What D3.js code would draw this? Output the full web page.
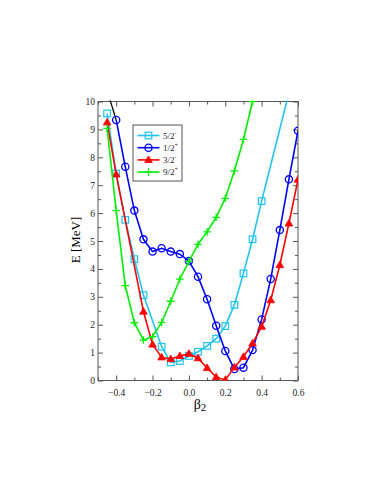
<!DOCTYPE html>
<html>
<head>
<meta charset="utf-8">
<script src="https://cdn.jsdelivr.net/npm/d3@7"></script>
<style>
  body { margin: 0; background: #fff; }
  svg text { font-family: "Liberation Serif", "Times New Roman", serif; }
</style>
</head>
<body>
<svg id="canvas"></svg>
<script>
/** Data (beta2, E in MeV) */
let beta52 = [-0.45, -0.4, -0.35, -0.3, -0.25, -0.15, -0.1, -0.05, 0.0, 0.05, 0.1, 0.15, 0.2, 0.25, 0.3, 0.35, 0.4, 0.6];
let e52 = [9.57, 7.42, 5.76, 4.35, 3.06, 1.21, 0.65, 0.70, 0.88, 1.03, 1.24, 1.5, 1.95, 2.71, 3.84, 5.06, 6.43, 11.6];

let beta12 = [-0.4, -0.35, -0.3, -0.25, -0.2, -0.15, -0.1, -0.05, 0.0, 0.05, 0.1, 0.15, 0.2, 0.25, 0.3, 0.35, 0.4, 0.45, 0.5, 0.55, 0.6];
let e12 = [9.34, 7.66, 6.09, 5.06, 4.62, 4.74, 4.62, 4.53, 4.28, 3.72, 2.91, 1.96, 1.06, 0.41, 0.46, 1.09, 2.19, 3.64, 5.39, 7.21, 8.95];

let beta32 = [-0.45, -0.4, -0.25, -0.2, -0.15, -0.1, -0.05, 0.0, 0.05, 0.1, 0.15, 0.2, 0.25, 0.3, 0.35, 0.4, 0.45, 0.5, 0.55, 0.6];
let e32 = [9.25, 7.39, 2.47, 1.29, 0.83, 0.77, 0.88, 0.96, 0.80, 0.45, 0.12, 0.02, 0.47, 0.85, 1.33, 1.93, 2.88, 4.14, 5.63, 7.2];

let beta92 = [-0.45, -0.4, -0.35, -0.3, -0.25, -0.2, -0.15, -0.1, -0.05, 0.0, 0.05, 0.1, 0.15, 0.2, 0.25, 0.3, 0.35];
let e92 = [9.04, 6.09, 3.4, 2.07, 1.45, 1.57, 2.08, 2.84, 3.63, 4.27, 4.88, 5.33, 5.85, 6.53, 7.51, 8.64, 10.0];

// short black piece running off the top at the left
let betaBlack = [-0.45, -0.4];
let eBlack = [10.4, 9.34];

let series = [
    { name: '5/2', sup: '-', color: '#1ec3f0', symbol: 'square', beta: beta52, e: e52 },
    { name: '1/2', sup: '+', color: '#0000ff', symbol: 'circle', beta: beta12, e: e12 },
    { name: '3/2', sup: '-', color: '#ff0000', symbol: 'triangle', beta: beta32, e: e32 },
    { name: '9/2', sup: '+', color: '#00ee00', symbol: 'plus', beta: beta92, e: e92 }
];

let xTicks = [-0.4, -0.2, 0.0, 0.2, 0.4, 0.6];
let xMinor = [-0.5, -0.3, -0.1, 0.1, 0.3, 0.5];
let yTicks = [0, 1, 2, 3, 4, 5, 6, 7, 8, 9, 10];
let yMinor = [0.5, 1.5, 2.5, 3.5, 4.5, 5.5, 6.5, 7.5, 8.5, 9.5];

let width = 383;
let height = 495;
let plotLeft = 98, plotRight = 298, plotTop = 101.5, plotBottom = 380.5;

let canvas = d3.select('#canvas').attr('width', width).attr('height', height);

let xScale = d3.scaleLinear().domain([-0.5, 0.6]).range([plotLeft, plotRight]);
let yScale = d3.scaleLinear().domain([0, 10]).range([plotBottom, plotTop]);

/** Frame and ticks (inward, on all four sides) */
const drawAxes = () => {
    const axisColor = '#555';
    const style = (g) => {
        g.select('.domain').remove();
        g.selectAll('line').attr('stroke', axisColor);
        g.selectAll('text').attr('fill', '#222').style('font-size', '9.5px');
    };

    canvas.append('g').attr('transform', `translate(0, ${plotBottom})`)
        .call(d3.axisBottom(xScale).tickValues(xTicks).tickSize(-5).tickPadding(9).tickFormat(d3.format('.1f')))
        .call(style);
    canvas.append('g').attr('transform', `translate(0, ${plotBottom})`)
        .call(d3.axisBottom(xScale).tickValues(xMinor).tickSize(-3).tickFormat(''))
        .call(style);
    canvas.append('g').attr('transform', `translate(0, ${plotTop})`)
        .call(d3.axisTop(xScale).tickValues(xTicks).tickSize(-5).tickFormat(''))
        .call(style);
    canvas.append('g').attr('transform', `translate(0, ${plotTop})`)
        .call(d3.axisTop(xScale).tickValues(xMinor).tickSize(-3).tickFormat(''))
        .call(style);

    canvas.append('g').attr('transform', `translate(${plotLeft}, 0)`)
        .call(d3.axisLeft(yScale).tickValues(yTicks).tickSize(-5).tickPadding(3).tickFormat(d3.format('d')))
        .call(style);
    canvas.append('g').attr('transform', `translate(${plotLeft}, 0)`)
        .call(d3.axisLeft(yScale).tickValues(yMinor).tickSize(-3).tickFormat(''))
        .call(style);
    canvas.append('g').attr('transform', `translate(${plotRight}, 0)`)
        .call(d3.axisRight(yScale).tickValues(yTicks).tickSize(-5).tickFormat(''))
        .call(style);
    canvas.append('g').attr('transform', `translate(${plotRight}, 0)`)
        .call(d3.axisRight(yScale).tickValues(yMinor).tickSize(-3).tickFormat(''))
        .call(style);

    canvas.append('rect')
        .attr('x', plotLeft).attr('y', plotTop)
        .attr('width', plotRight - plotLeft).attr('height', plotBottom - plotTop)
        .attr('fill', 'none').attr('stroke', axisColor).attr('stroke-width', 1);

    // axis titles
    canvas.append('text')
        .attr('transform', `translate(80, 240) rotate(-90)`)
        .attr('text-anchor', 'middle')
        .style('font-size', '13px')
        .text('E [MeV]');

    let xt = canvas.append('text')
        .attr('x', 200).attr('y', 409)
        .attr('text-anchor', 'middle')
        .style('font-size', '14px');
    xt.append('tspan').text('β');
    xt.append('tspan').attr('dy', 2).style('font-size', '11px').text('2');
};

/** One marker symbol */
const drawMarker = (g, symbol, color, x, y) => {
    if (symbol === 'square') {
        g.append('rect').attr('x', x - 3.3).attr('y', y - 3.3).attr('width', 6.6).attr('height', 6.6)
            .attr('fill', 'none').attr('stroke', color).attr('stroke-width', 1.2);
    } else if (symbol === 'circle') {
        g.append('circle').attr('cx', x).attr('cy', y).attr('r', 3.6)
            .attr('fill', 'none').attr('stroke', color).attr('stroke-width', 1.3);
    } else if (symbol === 'triangle') {
        g.append('path').attr('d', `M${x},${y - 4} L${x + 3.8},${y + 2.6} L${x - 3.8},${y + 2.6} Z`)
            .attr('fill', color).attr('stroke', color).attr('stroke-width', 0.8);
    } else {
        g.append('path').attr('d', `M${x - 3.8},${y} H${x + 3.8} M${x},${y - 3.8} V${y + 3.8}`)
            .attr('stroke', color).attr('stroke-width', 1.3);
    }
};

/** Curves and markers */
const drawSeries = () => {
    canvas.append('clipPath').attr('id', 'plot-clip')
        .append('rect').attr('x', plotLeft).attr('y', plotTop - 1)
        .attr('width', plotRight - plotLeft).attr('height', plotBottom - plotTop + 1);

    let plot = canvas.append('g').attr('clip-path', 'url(#plot-clip)');

    let line = d3.line()
        .x((d) => xScale(d[0]))
        .y((d) => yScale(d[1]));

    plot.append('path')
        .attr('d', line(betaBlack.map((b, i) => [b, eBlack[i]])))
        .attr('fill', 'none').attr('stroke', '#000').attr('stroke-width', 1.3);

    series.forEach((s) => {
        let pts = s.beta.map((b, i) => [b, s.e[i]]);
        plot.append('path')
            .attr('d', line(pts))
            .attr('fill', 'none')
            .attr('stroke', s.color)
            .attr('stroke-width', 1.6);
        let g = plot.append('g');
        pts.forEach((p) => drawMarker(g, s.symbol, s.color, xScale(p[0]), yScale(p[1])));
    });
};

/** Legend box */
const drawLegend = () => {
    let lg = canvas.append('g');
    lg.append('rect')
        .attr('x', 133).attr('y', 125).attr('width', 49).attr('height', 56)
        .attr('fill', '#fff').attr('stroke', '#555').attr('stroke-width', 1);

    series.forEach((s, i) => {
        let y = 135.5 + i * 12.2;
        lg.append('line').attr('x1', 137.5).attr('x2', 159.5).attr('y1', y).attr('y2', y)
            .attr('stroke', s.color).attr('stroke-width', 1.6);
        drawMarker(lg, s.symbol, s.color, 148.5, y);
        let t = lg.append('text').attr('x', 163).attr('y', y + 3.3).style('font-size', '9px').attr('fill', '#222');
        t.append('tspan').text(s.name);
        t.append('tspan').attr('dy', -4).style('font-size', '6px').text(s.sup);
    });
};

drawAxes();
drawSeries();
drawLegend();
</script>
</body>
</html>
